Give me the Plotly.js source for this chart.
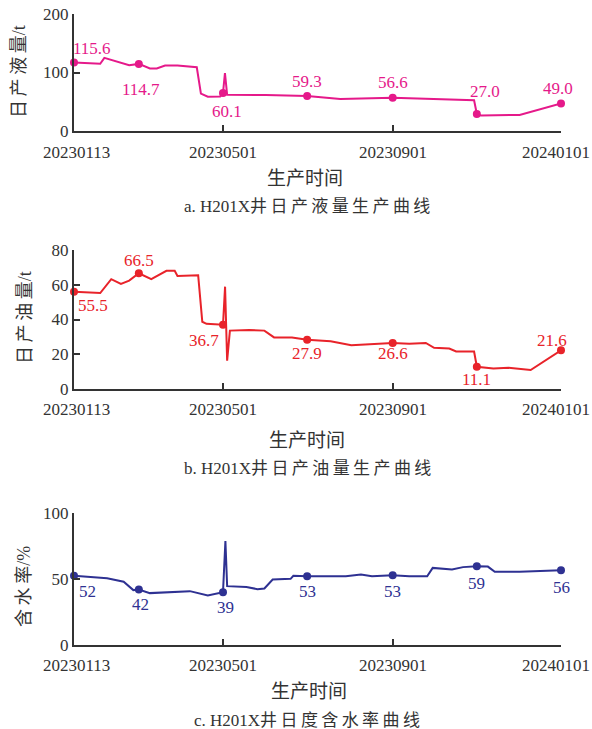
<!DOCTYPE html>
<html><head><meta charset="utf-8">
<script src="https://cdn.plot.ly/plotly-3.0.1.min.js"></script>
<style>html,body{margin:0;padding:0;background:#fff}#chart{width:592px;height:729px}</style>
</head><body><div id="chart"></div>
<script>
// ---------- data ----------
const liquidDates = ['2023-01-13','2023-02-01','2023-02-04','2023-02-22','2023-03-01','2023-03-09','2023-03-14','2023-03-20','2023-03-29','2023-04-12','2023-04-15','2023-04-20','2023-04-29','2023-05-01','2023-05-02 10:00','2023-05-04','2023-06-01','2023-07-01','2023-07-25','2023-09-01','2023-10-30','2023-11-01','2023-11-04','2023-12-02','2024-01-01'];
const liquidValues = [117,115,125,112.5,114.7,107,107,112,112,109,64,58.5,59,65,99,62,61.5,60,54.5,57,52.5,29,26.5,27.5,47];

const oilDates = ['2023-01-13','2023-02-01','2023-02-09','2023-02-16','2023-02-22','2023-03-01','2023-03-10','2023-03-21','2023-03-27','2023-03-29','2023-04-13','2023-04-16','2023-04-19','2023-05-01','2023-05-02 12:00','2023-05-04','2023-05-06','2023-05-20','2023-05-31','2023-06-07','2023-06-20','2023-07-01','2023-07-18','2023-08-02','2023-09-01','2023-09-13','2023-09-25','2023-10-01','2023-10-12','2023-10-17','2023-10-30','2023-11-01','2023-11-13','2023-11-24','2023-12-10','2024-01-01'];
const oilValues = [56,55.2,63.2,60.5,62.4,66.6,63.2,68,68,65,65.5,38.7,37.5,37,58.9,16.3,33.6,33.9,33.6,29.7,29.7,28.4,27.5,25.2,26.5,26,26.5,23.7,23.3,21.6,21.6,12.8,11.8,12.2,10.9,22.3];

const waterDates = ['2023-01-13','2023-02-06','2023-02-18','2023-02-25','2023-03-01','2023-03-09','2023-04-07','2023-04-20','2023-05-01','2023-05-02 18:00','2023-05-04','2023-05-18','2023-05-26','2023-05-31','2023-06-06','2023-06-19','2023-06-21','2023-07-01','2023-07-29','2023-08-09','2023-08-17','2023-09-01','2023-09-13','2023-09-26','2023-09-30','2023-10-14','2023-10-22','2023-11-01','2023-11-09','2023-11-14','2023-12-02','2024-01-01'];
const waterValues = [52.4,50.6,47.9,41.6,42.1,39.3,40.8,37.5,40,78.8,44.6,44,42.3,42.8,49.6,50.1,52.4,52.1,52.1,53.4,52.1,52.9,52.1,52.1,58.4,57.2,59,59.7,59.4,55.4,55.4,56.7];

const markerDates = ['2023-01-13','2023-03-01','2023-05-01','2023-07-01','2023-09-01','2023-11-01','2024-01-01'];
const liquidLabels = ['115.6','114.7','60.1','59.3','56.6','27.0','49.0'];
const oilLabels = ['55.5','66.5','36.7','27.9','26.6','11.1','21.6'];
const waterLabels = ['52','42','39','53','53','59','56'];

const tickDates = ['2023-01-13','2023-05-01','2023-09-01','2024-01-01'];
const tickLabels = ['20230113','20230501','20230901','20240101'];
const liquidTicks = [0,100,200];
const oilTicks = [0,20,40,60,80];
const waterTicks = [0,50,100];

// ---------- styling / layout ----------
const labelOffsetsLiquid = [[18,-14],[2,26],[4,19],[0,-14],[0,-15],[8,-23],[-3,-15]];
const labelOffsetsOil = [[19,14],[0,-13],[-19,16],[0,14],[0,11],[0,13],[-9,-10]];
const labelOffsetsWater = [[13,16],[2,15],[2,15],[0,15],[0,16],[0,17],[0,17]];
const tickLabelShift = [2,0,0,-5];

const W = 592, H = 729;
const L = 74, R = 561, T = 14, B = 645;
const px = x => (x - L) / (R - L);
const py = y => (B - y) / (B - T);

const AX = '#333333';
const serif = 'Liberation Serif, Times New Roman, serif';
const cjk = 'Liberation Serif, Noto Sans CJK SC, serif';
const sp = s => s.split('').join('\u2009');

function pick(dates, vals, keys) {
  return keys.map(k => vals[dates.indexOf(k)]);
}

const series = [
  {d: liquidDates, v: liquidValues, lab: liquidLabels, off: labelOffsetsLiquid, color: '#E5198A', xa: 'x', ya: 'y', tg: 21},
  {d: oilDates, v: oilValues, lab: oilLabels, off: labelOffsetsOil, color: '#E8232A', xa: 'x2', ya: 'y2', tg: 20},
  {d: waterDates, v: waterValues, lab: waterLabels, off: labelOffsetsWater, color: '#2E3192', xa: 'x3', ya: 'y3', tg: 20}
];

const traces = [];
const annotations = [];
series.forEach(s => {
  traces.push({x: s.d, y: s.v, type: 'scatter', mode: 'lines', xaxis: s.xa, yaxis: s.ya,
    line: {color: s.color, width: 2}, cliponaxis: false, hoverinfo: 'skip'});
  const my = pick(s.d, s.v, markerDates);
  traces.push({x: markerDates, y: my, type: 'scatter', mode: 'markers', xaxis: s.xa, yaxis: s.ya,
    marker: {color: s.color, size: 8}, cliponaxis: false, hoverinfo: 'skip'});
  markerDates.forEach((d, i) => {
    annotations.push({x: d, y: my[i], xref: s.xa, yref: s.ya, text: s.lab[i], showarrow: false,
      xshift: s.off[i][0], yshift: -s.off[i][1], xanchor: 'center', yanchor: 'middle',
      font: {family: serif, size: 17, color: s.color}});
  });
  // x tick labels
  tickDates.forEach((d, i) => {
    annotations.push({x: d, y: 0, xref: s.xa, yref: s.ya, text: tickLabels[i], showarrow: false,
      xshift: tickLabelShift[i], yshift: -s.tg, xanchor: 'center', yanchor: 'middle',
      font: {family: serif, size: 17, color: AX}});
  });
});

// titles and captions
const texts = [
  {t: sp('日产液量') + '/t', x: 19, y: 72, rot: -90, size: 18},
  {t: sp('日产油量') + '/t', x: 25, y: 318, rot: -90, size: 18},
  {t: sp('含水率') + '/%', x: 24, y: 587, rot: -90, size: 18},
  {t: '生产时间', x: 305, y: 178, rot: 0, size: 19},
  {t: '生产时间', x: 307, y: 440, rot: 0, size: 19},
  {t: '生产时间', x: 309, y: 691, rot: 0, size: 19},
  {t: 'a. H201X' + sp('井日产液量生产曲线'), x: 307, y: 206, rot: 0, size: 17},
  {t: 'b. H201X' + sp('井日产油量生产曲线'), x: 307, y: 469, rot: 0, size: 17},
  {t: 'c. H201X' + sp('井日度含水率曲线'), x: 307, y: 720, rot: 0, size: 17}
];
texts.forEach(o => annotations.push({x: px(o.x), y: py(o.y), xref: 'paper', yref: 'paper', text: o.t,
  showarrow: false, textangle: o.rot, xanchor: 'center', yanchor: 'middle',
  font: {family: cjk, size: o.size, color: AX}}));

function xaxis(anchor) {
  return {type: 'date', range: ['2023-01-13', '2024-01-01'], anchor: anchor,
    tickmode: 'array', tickvals: tickDates, showticklabels: false,
    ticks: 'inside', ticklen: 6, tickwidth: 2, tickcolor: AX,
    showline: true, linewidth: 2, linecolor: AX, showgrid: false, zeroline: false, fixedrange: true};
}
function yaxis(anchor, dom, range, ticks) {
  return {domain: dom, range: range, anchor: anchor, tickmode: 'array', tickvals: ticks,
    ticks: 'inside', ticklen: 6, tickwidth: 2, tickcolor: AX,
    showline: true, linewidth: 2, linecolor: AX, showgrid: false, zeroline: false,
    tickfont: {family: serif, size: 17, color: AX}, fixedrange: true};
}

const layout = {
  width: W, height: H, showlegend: false,
  margin: {l: L, r: W - R, t: T, b: H - B, pad: 0},
  paper_bgcolor: '#fff', plot_bgcolor: '#fff',
  xaxis: xaxis('y'), xaxis2: xaxis('y2'), xaxis3: xaxis('y3'),
  yaxis: yaxis('x', [py(131), 1], [0, 200], liquidTicks),
  yaxis2: yaxis('x2', [py(389), py(250)], [0, 80], oilTicks),
  yaxis3: yaxis('x3', [0, py(513)], [0, 100], waterTicks),
  annotations: annotations
};

Plotly.newPlot('chart', traces, layout, {displayModeBar: false, staticPlot: true});
</script></body></html>
